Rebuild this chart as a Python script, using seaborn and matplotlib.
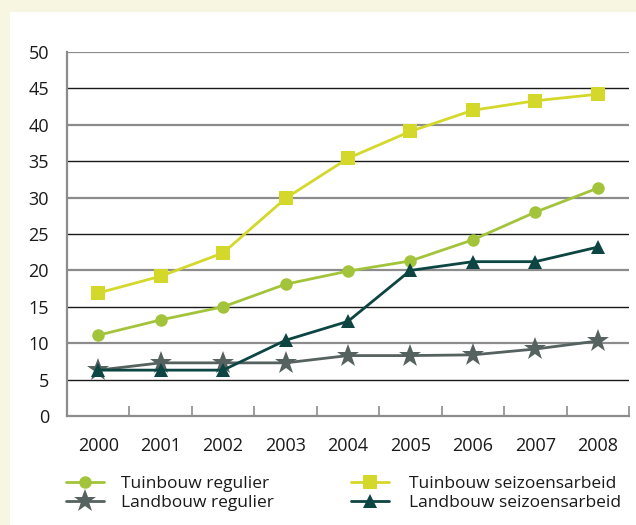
import matplotlib
matplotlib.use("Agg")
import matplotlib.pyplot as plt
import seaborn as sns
import pandas as pd
from matplotlib.patches import Rectangle

# data
years = [2000, 2001, 2002, 2003, 2004, 2005, 2006, 2007, 2008]
tuinbouw_regulier = [11.1, 13.2, 15.0, 18.1, 19.9, 21.3, 24.2, 28.0, 31.3]
tuinbouw_seizoen = [16.9, 19.2, 22.4, 29.9, 35.4, 39.1, 42.0, 43.3, 44.2]
landbouw_regulier = [6.3, 7.3, 7.3, 7.3, 8.3, 8.3, 8.4, 9.2, 10.3]
landbouw_seizoen = [6.3, 6.3, 6.3, 10.4, 13.0, 20.0, 21.2, 21.2, 23.2]
yticks = [0, 5, 10, 15, 20, 25, 30, 35, 40, 45, 50]

sns.set_theme(style="white")
plt.rcParams["font.family"] = ["Open Sans", "DejaVu Sans"]
txt = "#1a1a1a"

fig = plt.figure(figsize=(6.36, 5.25), dpi=100)
fig.patch.set_facecolor("#f7f6e0")
fig.add_artist(Rectangle((10 / 636, 0), 1, 1 - 12 / 525, transform=fig.transFigure,
                         facecolor="white", edgecolor="none", zorder=-10))

ax = fig.add_axes([67 / 636, 1 - 416 / 525, (629 - 67) / 636, (416 - 52) / 525])
ax.set_facecolor("none")

series = [
    ("Tuinbouw regulier", tuinbouw_regulier, "#a3c43a", "o", 9),
    ("Landbouw regulier", landbouw_regulier, "#56625f", "*", 17),
    ("Tuinbouw seizoensarbeid", tuinbouw_seizoen, "#d4d82a", "s", 9.5),
    ("Landbouw seizoensarbeid", landbouw_seizoen, "#0c4542", "^", 10.5),
]

# gridlines alternate grey / black like the original
for v in yticks[1:]:
    if v % 10 == 0:
        ax.axhline(v, color="#8c8c8c", lw=1.6, zorder=1)
    else:
        ax.axhline(v, color="#1a1a1a", lw=1.0, zorder=1)

for i, (name, vals, col, mk, ms) in enumerate(series):
    df = pd.DataFrame({"jaar": years, "waarde": vals})
    sns.lineplot(data=df, x="jaar", y="waarde", ax=ax, color=col, marker=mk,
                 markersize=ms, markeredgewidth=0, linewidth=2.0, label=name,
                 zorder=3 + i)

ax.set_xlim(1999.5, 2008.5)
ax.set_ylim(0, 50)
ax.set_xticks(years)
ax.set_xticks([y + 0.5 for y in years], minor=True)
ax.set_yticks(yticks)
ax.set_xlabel("")
ax.set_ylabel("")
ax.tick_params(axis="x", which="major", length=0, pad=15, labelsize=13, labelcolor=txt)
ax.tick_params(axis="x", which="minor", direction="in", length=7.5, width=1.2,
               color="#8c8c8c", bottom=True)
ax.tick_params(axis="y", length=0, pad=13, labelsize=13, labelcolor=txt)

for s in ["top", "right"]:
    ax.spines[s].set_visible(False)
for s in ["left", "bottom"]:
    ax.spines[s].set_color("#8c8c8c")
    ax.spines[s].set_linewidth(1.6)

ax.get_legend().remove()
handles, labels = ax.get_legend_handles_labels()
leg_kw = dict(loc="upper left", frameon=False, fontsize=12.5, handlelength=2.2,
              labelspacing=0.15, borderpad=0, borderaxespad=0, labelcolor=txt)
fig.legend(handles[:2], labels[:2], bbox_to_anchor=(66 / 636, 1 - 476 / 525),
           handletextpad=0.95, **leg_kw)
fig.legend(handles[2:], labels[2:], bbox_to_anchor=(351 / 636, 1 - 476 / 525),
           handletextpad=1.15, **leg_kw)

fig.savefig("out.png", dpi=100, facecolor=fig.get_facecolor())
